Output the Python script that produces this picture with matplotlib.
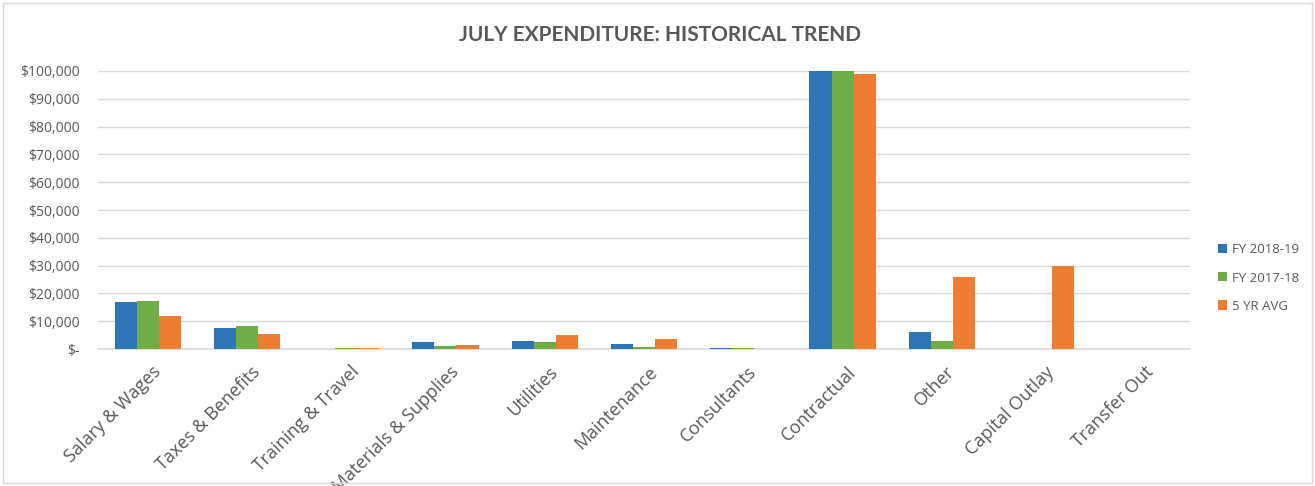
import numpy as np
import matplotlib
matplotlib.use("Agg")
import matplotlib.pyplot as plt
from matplotlib.patches import Patch, Rectangle
from matplotlib.ticker import FuncFormatter

plt.rcParams['font.family'] = ['Open Sans', 'DejaVu Sans']

categories = ["Salary & Wages", "Taxes & Benefits", "Training & Travel", "Materials & Supplies",
              "Utilities", "Maintenance", "Consultants", "Contractual", "Other",
              "Capital Outlay", "Transfer Out"]
fy_2018_19 = [16900, 7600, 0, 2400, 2800, 1800, 300, 100000, 6100, 0, 0]
fy_2017_18 = [17300, 8200, 300, 1100, 2400, 600, 300, 100000, 2800, 0, 0]
avg_5yr = [11700, 5400, 200, 1300, 5100, 3500, 0, 98900, 25900, 29700, 0]
series_names = ["FY 2018-19", "FY 2017-18", "5 YR AVG"]
colors = ["#2E75B6", "#70AD47", "#ED7D31"]
text_gray = "#595959"

W, H = 1315, 486
fig = plt.figure(figsize=(W / 100, H / 100), dpi=100)
ax = fig.add_axes([98 / W, 1 - 349 / H, (1190 - 98) / W, (349 - 71) / H])

x = np.arange(len(categories))
bw = 0.222
for k, vals in enumerate([fy_2018_19, fy_2017_18, avg_5yr]):
    ax.bar(x + (k - 1) * bw, vals, width=bw, color=colors[k], zorder=3)

ax.set_xlim(-0.5, len(categories) - 0.5)
ax.set_ylim(0, 100000)
ax.set_yticks(np.arange(0, 100001, 10000))
ax.yaxis.set_major_formatter(FuncFormatter(lambda v, p: "$-" if v == 0 else f"${v:,.0f}"))
ax.tick_params(axis='y', length=0, pad=13, labelsize=10, labelcolor=text_gray)
ax.set_xticks(x + 0.04)
ax.set_xticklabels(categories, rotation=45, ha='right', rotation_mode='anchor',
                   fontsize=13, color=text_gray)
ax.tick_params(axis='x', length=0, pad=10)
ax.grid(axis='y', color="#d9d9d9", linewidth=1, zorder=0)
for s in ["top", "right", "left"]:
    ax.spines[s].set_visible(False)
ax.spines["bottom"].set_color("#d9d9d9")
ax.spines["bottom"].set_linewidth(1.2)

fig.text(660 / W, 1 - 35 / H, "JULY EXPENDITURE: HISTORICAL TREND", ha='center', va='center',
         fontsize=15, fontweight='bold', color=text_gray, family=['Lato', 'DejaVu Sans'])

handles = [Patch(facecolor=c, edgecolor='none') for c in colors]
fig.legend(handles, series_names, loc='center left', bbox_to_anchor=(1206 / W, 1 - 278 / H),
           frameon=False, fontsize=9.5, labelcolor=text_gray, handlelength=0.7,
           handleheight=0.7, handletextpad=0.4, labelspacing=1.15)

fig.patches.append(Rectangle((3 / W, 3 / H), (W - 6) / W, (H - 6) / H, transform=fig.transFigure,
                             fill=False, edgecolor="#d9d9d9", linewidth=1))

fig.savefig("out.png", dpi=100)
